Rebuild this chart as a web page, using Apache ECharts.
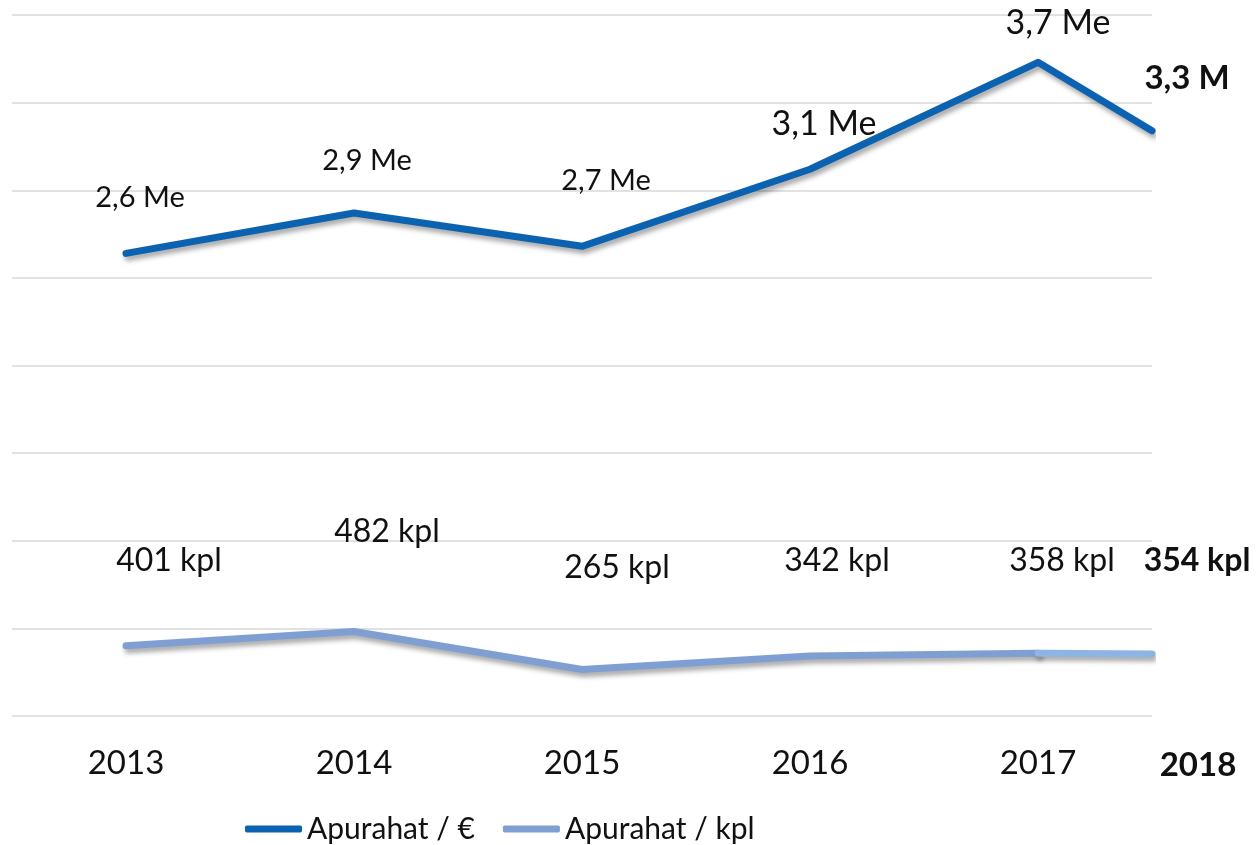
<!DOCTYPE html>
<html>
<head>
<meta charset="utf-8">
<script src="https://cdn.jsdelivr.net/npm/echarts@6/dist/echarts.min.js"></script>
<style>
  html, body { margin: 0; padding: 0; background: #fff; }
  #chart { width: 1256px; height: 845px; }
</style>
</head>
<body>
<div id="chart"></div>
<script>
// Years shown on the axis; 2018 sits on the right edge of the plot in the original
const years = ["2013", "2014", "2015", "2016", "2017", "2018"];
const yearX = [2013, 2014, 2015, 2016, 2017, 2017.5];

// Apurahat in million euros
const euroValues = [2.64, 2.87, 2.68, 3.12, 3.73, 3.34];
const euroLabels = ["2,6 Me", "2,9 Me", "2,7 Me", "3,1 Me", "3,7 Me", "3,3 M"];

// Apurahat count
const kplValues = [401, 482, 265, 342, 358, 354];
const kplLabels = ["401 kpl", "482 kpl", "265 kpl", "342 kpl", "358 kpl", "354 kpl"];

const FONT = "Lato";
const COLORS = {
  euro: "#0a62b0",
  kpl: "#7f9fd2",
  kplLast: "#8db4e2",
  grid: "#d9d9d9",
  text: "#111",
};

// label placement (px offset from the point) and size, per point
const euroLabelStyle = [
  { size: 29, dx: 14, dy: -56 },
  { size: 29, dx: 13, dy: -52 },
  { size: 29, dx: 24, dy: -66 },
  { size: 34, dx: 14, dy: -45 },
  { size: 34, dx: 20, dy: -39 },
  { size: 33, dx: 35, dy: -52, bold: true },
];
const kplLabelStyle = [
  { size: 32, dx: 43, dy: -85 },
  { size: 32, dx: 33, dy: -100 },
  { size: 32, dx: 35, dy: -102 },
  { size: 32, dx: 27, dy: -95 },
  { size: 32, dx: 24, dy: -93 },
  { size: 32, dx: 45, dy: -93, bold: true },
];

const makeLabel = (text, st) => ({
  show: true,
  position: "inside",
  offset: [st.dx, st.dy],
  formatter: text,
  fontSize: st.size,
  fontWeight: st.bold ? "bold" : "normal",
  fontFamily: FONT,
  color: COLORS.text,
});

const euroData = euroValues.map((v, i) => ({
  value: [yearX[i], v],
  label: makeLabel(euroLabels[i], euroLabelStyle[i]),
}));

const kplData = kplValues.slice(0, 5).map((v, i) => ({
  value: [yearX[i], v],
  label: makeLabel(kplLabels[i], kplLabelStyle[i]),
}));

const kplLastData = [
  { value: [yearX[4], kplValues[4]], label: { show: false } },
  { value: [yearX[5], kplValues[5]], label: makeLabel(kplLabels[5], kplLabelStyle[5]) },
];

const lineShadow = {
  shadowColor: "rgba(0,0,0,0.35)",
  shadowBlur: 5,
  shadowOffsetX: 2,
  shadowOffsetY: 4,
};

const chart = echarts.init(document.getElementById("chart"));

chart.setOption({
  animation: false,
  backgroundColor: "#fff",
  grid: { left: 12, right: 104, top: 15, bottom: 129 },
  legend: {
    data: ["Apurahat / €", "Apurahat / kpl"],
    left: 240,
    top: 809,
    itemWidth: 57,
    itemHeight: 7,
    itemGap: 28,
    icon: "roundRect",
    textStyle: { fontSize: 30, fontFamily: FONT, color: COLORS.text },
  },
  xAxis: [
    {
      type: "value",
      min: 2012.5,
      max: 2017.5,
      position: "top",
      show: false,
    },
    {
      type: "category",
      data: years.slice(0, 5),
      boundaryGap: true,
      position: "bottom",
      axisLine: { show: false },
      axisTick: { show: false },
      splitLine: { show: false },
      axisLabel: { fontSize: 33, fontFamily: FONT, color: COLORS.text, margin: 31 },
    },
  ],
  yAxis: [
    {
      type: "value",
      min: 0,
      max: 4,
      interval: 0.5,
      axisLabel: { show: false },
      axisLine: { show: false },
      axisTick: { show: false },
      splitLine: { lineStyle: { color: COLORS.grid, width: 1.5 } },
    },
    {
      type: "value",
      min: 0,
      max: 4000,
      show: false,
      splitLine: { show: false },
    },
  ],
  graphic: [
    {
      type: "text",
      x: 1198,
      y: 765,
      style: {
        text: years[5],
        fontSize: 33,
        fontWeight: "bold",
        fontFamily: FONT,
        fill: COLORS.text,
        align: "center",
        verticalAlign: "middle",
      },
    },
  ],
  series: [
    {
      name: "Apurahat / €",
      type: "line",
      xAxisIndex: 0,
      yAxisIndex: 0,
      clip: false,
      color: COLORS.euro,
      symbol: "circle",
      symbolSize: 0,
      lineStyle: { width: 7, color: COLORS.euro, cap: "round", join: "round", ...lineShadow },
      data: euroData,
      z: 3,
    },
    {
      name: "Apurahat / kpl",
      type: "line",
      xAxisIndex: 0,
      yAxisIndex: 1,
      clip: false,
      color: COLORS.kpl,
      symbol: "circle",
      symbolSize: 0,
      lineStyle: { width: 7, color: COLORS.kpl, cap: "round", join: "round", ...lineShadow },
      data: kplData,
      z: 2,
    },
    {
      name: "kpl 2018",
      type: "line",
      xAxisIndex: 0,
      yAxisIndex: 1,
      clip: false,
      color: COLORS.kplLast,
      symbol: "circle",
      symbolSize: 0,
      lineStyle: { width: 7, color: COLORS.kplLast, cap: "round", ...lineShadow },
      data: kplLastData,
      z: 2,
    },
  ],
});
</script>
</body>
</html>
